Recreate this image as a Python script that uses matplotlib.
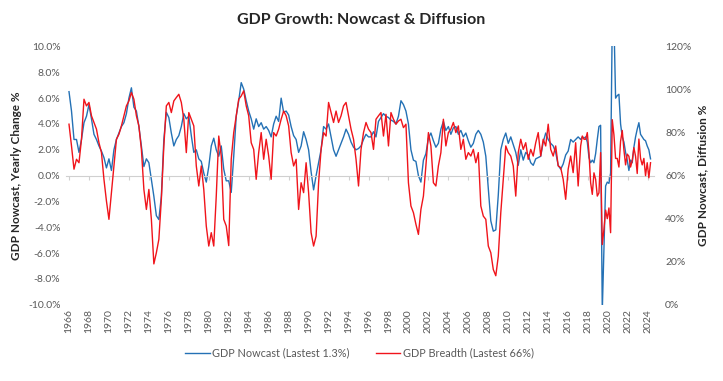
import numpy as np
import matplotlib
matplotlib.use("Agg")
import matplotlib.pyplot as plt

plt.rcParams['font.family'] = ['Lato', 'DejaVu Sans']

# quarterly readings 1966.0 - 2017.0
nowcast_q = [
    6.5, 5.0, 2.8, 2.8,   1.8, 2.8, 4.1, 4.6,   5.5, 4.4, 3.2, 2.8,   2.3, 1.9, 1.4, 0.6,
    1.3, 0.4, 2.0, 2.8,   3.3, 3.8, 4.1, 4.8,   6.0, 6.8, 5.3, 5.0,   3.8, 2.3, 0.7, 1.3,
    1.0, -0.3, -1.6, -3.1, -3.4, -1.6, 2.8, 4.9, 4.5, 3.3, 2.3, 2.8,  3.1, 3.8, 4.8, 4.4,
    4.6, 3.1, 1.8, 2.0,   1.3, 1.1, 0.2, -0.5,  0.7, 2.3, 2.9, 2.0,   1.5, 2.3, 0.5, -0.4,
    -0.4, -1.3, 1.5, 4.6, 5.8, 7.2, 6.7, 5.8,   5.0, 4.4, 3.6, 4.4,   3.8, 4.1, 3.6, 3.8,
    3.5, 3.0, 4.0, 4.6,   4.2, 6.0, 4.9, 5.0,   4.7, 3.8, 3.1, 2.8,   1.8, 2.3, 3.4, 2.8,
    2.0, 0.3, -1.1, 0.0,  1.0, 2.0, 3.8, 3.6,   4.0, 3.0, 2.0, 1.5,   2.0, 2.5, 3.0, 3.6,
    3.2, 2.6, 2.2, 2.0,   2.1, 2.3, 2.8, 3.2,   3.0, 3.0, 3.4, 3.0,   4.2, 4.5, 4.8, 4.6,
    4.5, 4.3, 4.2, 4.0,   4.6, 5.8, 5.5, 5.0,   4.0, 2.0, 1.2, 1.1,   0.0, -0.5, 1.2, 1.7,
    2.9, 3.3, 2.7, 2.2,   2.5, 3.6, 4.2, 3.5,   3.8, 3.2, 3.7, 3.8,   3.2, 3.5, 3.0, 3.3,
    2.7, 2.2, 2.5, 3.2,   3.5, 3.2, 2.6, 1.5,   -1.0, -3.5, -4.3, -4.2, -1.5, 2.0, 2.8, 3.3,
    2.5, 3.0, 2.4, 1.8,   0.8, 2.0, 1.2, 1.8,   1.6, 1.0, 0.8, 1.3,   1.4, 1.5, 2.6, 3.3,
    2.8, 2.5, 2.3, 1.8,   0.8, 0.5, 0.9, 1.6,   1.9, 2.8, 2.6, 2.8,   3.0,
]
breadth_q = [
    83.9, 73.8, 63.0, 67.6,  66.0, 76.9, 95.5, 92.4,  94.0, 87.8, 84.7, 81.6,  75.3, 70.7, 58.3, 48.2,
    39.7, 52.1, 64.5, 76.9,  79.2, 83.1, 87.8, 92.4,  94.7, 98.6, 95.5, 87.8,  83.1, 72.2, 53.6, 44.3,
    53.6, 39.7, 19.0, 24.2,  30.4, 49.0, 73.8, 92.4,  94.0, 89.3, 94.7, 96.3,  97.8, 94.0, 86.2, 70.7,
    89.3, 86.2, 83.1, 64.5,  55.2, 64.5, 53.6, 36.6,  27.3, 33.5, 27.3, 50.5,  78.4, 69.0, 39.7, 36.6,
    27.5, 67.6, 80.0, 87.8,  95.5, 97.0, 99.4, 92.4,  87.8, 75.3, 72.2, 58.3,  70.7, 80.0, 67.6, 76.9,
    69.1, 58.3, 80.0, 78.4,  81.6, 86.2, 90.0, 87.8,  83.1, 70.7, 64.5, 67.6,  44.3, 56.7, 52.1, 66.0,
    52.1, 33.5, 27.3, 31.9,  56.7, 72.2, 80.0, 78.4,  94.0, 89.3, 84.7, 90.0,  84.7, 87.8, 92.4, 94.0,
    87.8, 81.6, 76.9, 67.6,  55.2, 72.2, 80.0, 84.7,  81.6, 80.0, 72.2, 86.2,  87.8, 89.3, 78.4, 88.5,
    73.8, 89.3, 86.2, 83.9,  85.4, 86.2, 82.3, 83.9,  56.7, 45.9, 42.8, 37.4,  32.7, 44.3, 50.5, 64.7,
    80.0, 73.8, 56.7, 55.2,  64.5, 70.7, 86.2, 73.8,  80.0, 81.6, 84.7, 80.0,  83.1, 72.2, 76.9, 67.6,
    70.7, 69.1, 72.2, 66.0,  70.7, 45.9, 41.2, 39.7,  27.3, 24.2, 16.4, 13.5,  22.6, 42.8, 58.3, 73.8,
    70.7, 69.1, 64.5, 50.5,  70.7, 76.9, 72.2, 75.3,  67.6, 72.2, 69.1, 75.3,  80.0, 69.1, 76.9, 73.8,
    83.9, 72.2, 69.1, 73.8,  64.5, 63.7, 58.3, 49.0,  63.0, 69.1, 61.4, 75.3,  55.2,
]

# bi-monthly readings 2017.25 - 2024.25
nowcast_recent = [
    2.8, 3.0, 2.9, 3.0, 2.6, 1.4, 1.0, 1.2, 1.0, 1.7, 2.8, 3.8, 3.9, -10.5,
    -5.5, -0.8, -0.5, -0.6, 0.2, 12.0, 12.0, 6.0, 6.2, 6.3, 4.0, 3.0, 2.6, 1.8,
    1.2, 0.4, 1.2, 1.0, 2.2, 3.0, 3.6, 4.1, 3.2, 3.0, 2.8, 2.7, 2.3, 2.0, 1.3,
]
breadth_recent = [
    73.8, 78.4, 76.9, 76.9, 80.0, 70.7, 56.7, 51.3, 61.3, 58.3, 50.5, 52.0, 70.7, 28.0,
    35.0, 44.0, 40.0, 45.0, 33.5, 86.0, 79.0, 68.0, 68.0, 64.0, 76.0, 81.0, 72.0, 65.0,
    70.0, 69.0, 64.0, 67.0, 73.0, 69.0, 61.0, 77.0, 68.0, 65.0, 68.0, 60.0, 66.0, 59.0, 66.0,
]

year_ticks = list(range(1966, 2025, 2))

q_years = 1966 + 0.25 * np.arange(len(nowcast_q))
r_years = 2017.25 + np.arange(len(nowcast_recent)) / 6
years = np.concatenate([q_years, r_years])
nowcast = np.concatenate([nowcast_q, nowcast_recent])
breadth = np.concatenate([breadth_q, breadth_recent])

blue = '#2471B5'
red = '#F0141B'
grey = '#595959'

fig = plt.figure(figsize=(7.23, 3.81), dpi=100)
ax = fig.add_axes([0.0913, 0.200, 0.8133, 0.678])
ax2 = ax.twinx()

l1, = ax.plot(years, nowcast, color=blue, lw=1.0, label='GDP Nowcast (Lastest 1.3%)')
l2, = ax2.plot(years, breadth, color=red, lw=1.0, label='GDP Breadth (Lastest 66%)')

ax.set_xlim(1965.7, 2024.6)
ax.set_ylim(-10, 10)
ax2.set_ylim(0, 120)

ax.set_yticks(np.arange(-10, 10.1, 2))
ax.set_yticklabels([f'{v:.1f}%' for v in np.arange(-10, 10.1, 2)])
ax2.set_yticks(np.arange(0, 121, 20))
ax2.set_yticklabels([f'{v}%' for v in range(0, 121, 20)])

for a in (ax, ax2):
    for s in ('top', 'left', 'right'):
        a.spines[s].set_visible(False)
ax2.spines['bottom'].set_visible(False)

# category axis crosses at zero, labels stay at the bottom
ax.spines['bottom'].set_position(('data', 0))
ax.spines['bottom'].set_color('#D0D0D0')
ax.set_xticks(year_ticks)
ax.set_xticklabels([str(y) for y in year_ticks], rotation=90)
ax.tick_params(axis='x', direction='out', length=3, color='#D0D0D0', pad=93,
               labelsize=7.5, labelcolor=grey)
ax.tick_params(axis='y', length=0, labelsize=7.5, labelcolor=grey, pad=4)
ax2.tick_params(axis='y', length=0, labelsize=7.5, labelcolor=grey, pad=8)

ax.set_ylabel('GDP Nowcast, Yearly Change %', fontsize=8.5, fontweight='bold', color='#262626')
ax2.set_ylabel('GDP Nowcast, Diffusion %', fontsize=8.5, fontweight='bold', color='#262626')

fig.suptitle('GDP Growth: Nowcast & Diffusion', y=0.965, fontsize=11.5, fontweight='bold',
             color='#262626')

fig.legend(handles=[l1, l2], loc='center', bbox_to_anchor=(0.497, 0.073), ncol=2,
           frameon=False, fontsize=7.8, labelcolor=grey, handlelength=2.3,
           handletextpad=0.2, columnspacing=2.4)

fig.savefig('out.png', dpi=100)
